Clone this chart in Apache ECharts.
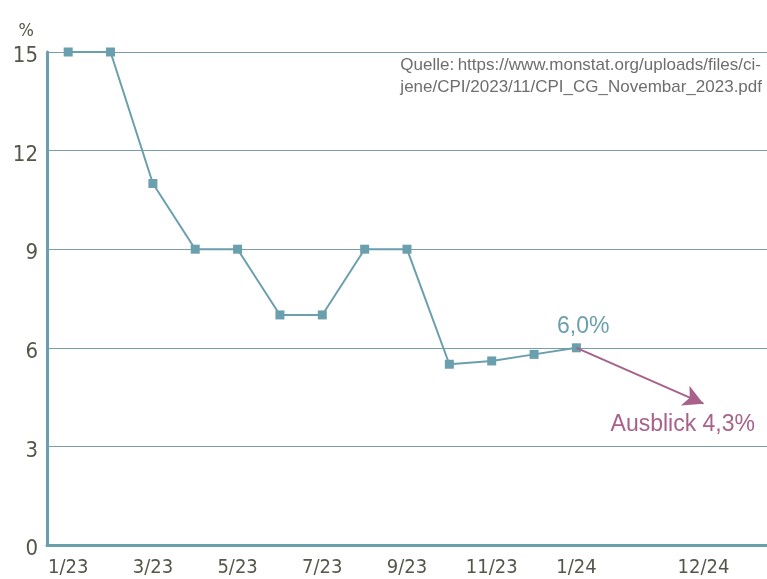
<!DOCTYPE html>
<html><head><meta charset="utf-8">
<script src="https://cdn.jsdelivr.net/npm/echarts@6/dist/echarts.min.js"></script>
<style>html,body{margin:0;padding:0;background:#fff}#c{width:767px;height:579px}</style>
</head><body><div id="c"></div>
<script>
var categories = ['1/23','2/23','3/23','4/23','5/23','6/23','7/23','8/23','9/23','10/23','11/23','12/23','1/24','2/24','3/24','12/24',''];
var tickLabels = ['1/23','','3/23','','5/23','','7/23','','9/23','','11/23','','1/24','','','12/24',''];
var inflation = [15,15,11,9,9,7,7,9,9,5.5,5.6,5.8,6.0];
var outlookFrom = [12, 6.0];
var outlookTo = [15, 4.3];
var yTicks = [0,3,6,9,12,15];

var chart = echarts.init(document.getElementById('c'), null, {renderer:'canvas'});
var teal = '#6a9fad';
var axisTextColor = '#55554a';
var condFont = '"DejaVu Sans Condensed", "Liberation Sans Narrow", "Liberation Sans", sans-serif';
chart.setOption({
  animation:false,
  grid:{left:47,right:0,top:52,bottom:34},
  xAxis:{type:'category',data:categories,boundaryGap:true,
    axisLine:{lineStyle:{color:teal,width:3}},
    axisTick:{show:false},
    axisLabel:{interval:0,margin:13,color:axisTextColor,fontFamily:condFont,fontSize:20,
      formatter:function(v,i){return tickLabels[i];}},
    splitLine:{show:false}},
  yAxis:{type:'value',min:yTicks[0],max:yTicks[yTicks.length-1],interval:3,
    name:'%',nameLocation:'end',nameGap:12,
    nameTextStyle:{color:axisTextColor,fontFamily:condFont,fontSize:18,align:'right',padding:[0,13,0,0]},
    axisLine:{show:true,lineStyle:{color:teal,width:3}},
    axisTick:{show:false},
    axisLabel:{margin:9,color:axisTextColor,fontFamily:condFont,fontSize:22,verticalAlign:'top',lineHeight:9},
    splitLine:{lineStyle:{color:'#7a9ea6',width:1}}},
  series:[{type:'line',data:inflation,symbol:'rect',symbolSize:9,
    lineStyle:{color:teal,width:2},itemStyle:{color:teal},
    markLine:{silent:true,symbol:['none','arrow'],symbolSize:[16,20],
      lineStyle:{color:'#a8618a',width:2,type:'solid'},label:{show:false},
      data:[[{coord:outlookFrom},{coord:outlookTo}]]}
  }],
  graphic:[
    {type:'text',right:5,top:54,style:{text:'Quelle:\u2009https://www.monstat.org/uploads/files/ci-\njene/CPI/2023/11/CPI_CG_Novembar_2023.pdf',
      align:'right',fill:'#6e6e6e',font:'17px "Liberation Sans"',lineHeight:22}},
    {type:'text',left:557,top:315,style:{text:'6,0%',fill:teal,font:'23px "Liberation Sans"'}},
    {type:'text',right:12,top:413,style:{text:'Ausblick 4,3%',fill:'#a8618a',font:'23px "Liberation Sans"'}}
  ]
});
</script></body></html>
